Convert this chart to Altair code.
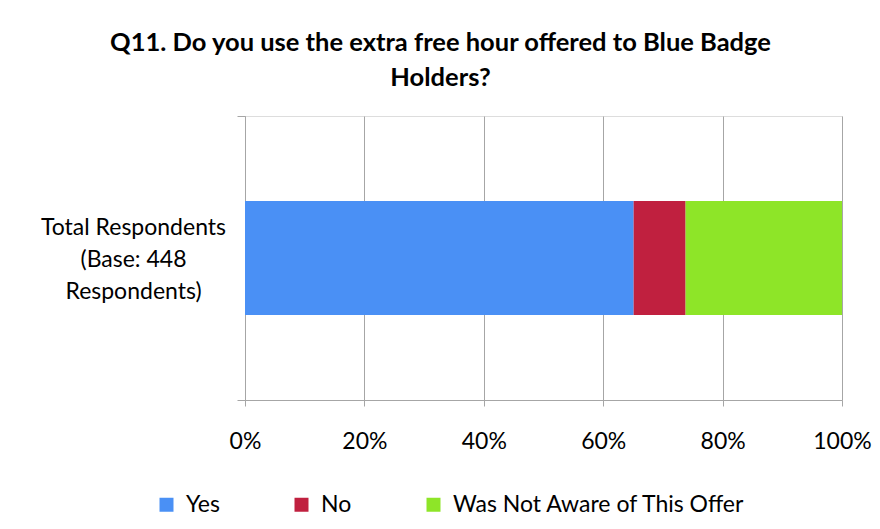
import altair as alt
import pandas as pd

categories = ["Total Respondents|(Base: 448|Respondents)"]
series = ["Yes", "No", "Was Not Aware of This Offer"]
values = [65.1, 8.7, 26.2]
colors = ["#4A90F5", "#C0203F", "#8EE528"]
x_ticks = [0, 20, 40, 60, 80, 100]
title_lines = ["Q11. Do you use the extra free hour offered to Blue Badge", "Holders?"]

rows = []
for cat in categories:
    for i, (s, v) in enumerate(zip(series, values)):
        rows.append({"cat": cat, "response": s, "value": v, "idx": i})
df = pd.DataFrame(rows)

FONT = "Lato"
GRAY = "#A6A6A6"

chart = alt.Chart(df).mark_bar(size=114).encode(
    x=alt.X("value:Q", stack="zero",
            scale=alt.Scale(domain=[0, 100], nice=False),
            axis=alt.Axis(values=x_ticks, labelExpr="datum.value + '%'", title=None,
                          grid=True, gridColor=GRAY, domainColor=GRAY,
                          tickColor=GRAY, tickSize=6, labelPadding=24,
                          labelFlush=False,
                          labelFontSize=23, labelColor="#000000", labelFont=FONT)),
    y=alt.Y("cat:N", title=None,
            scale=alt.Scale(paddingInner=0, paddingOuter=0),
            axis=alt.Axis(labelExpr="split(datum.label, '|')", tickBand="extent",
                          domainColor=GRAY, tickColor=GRAY, tickSize=8,
                          labelAlign="center", labelPadding=104, labelLineHeight=32,
                          labelOffset=-31, labelLimit=400,
                          labelFontSize=23, labelColor="#000000", labelFont=FONT,
                          grid=False)),
    color=alt.Color("response:N", scale=alt.Scale(domain=series, range=colors),
                    legend=alt.Legend(title=None, orient="none", direction="horizontal",
                                      legendX=-90, legendY=377,
                                      symbolType="square", symbolSize=196,
                                      symbolStrokeWidth=0, labelFontSize=23,
                                      labelFont=FONT, labelColor="#000000",
                                      labelLimit=500,
                                      columnPadding=70, labelOffset=8)),
    order=alt.Order("idx:Q"),
).properties(
    width=597, height=284,
    title=alt.TitleParams(text=title_lines, fontSize=25.5, fontWeight="bold", font=FONT,
                          color="#000000", anchor="middle", dx=-103, offset=14,
                          lineHeight=35),
    autosize=alt.AutoSizeParams(type="none"),
    padding={"left": 245, "top": 116, "right": 38, "bottom": 129},
).configure_view(stroke=None).configure(background="#FFFFFF")

chart.save("out.html", embed_options={"renderer": "svg", "actions": False})
